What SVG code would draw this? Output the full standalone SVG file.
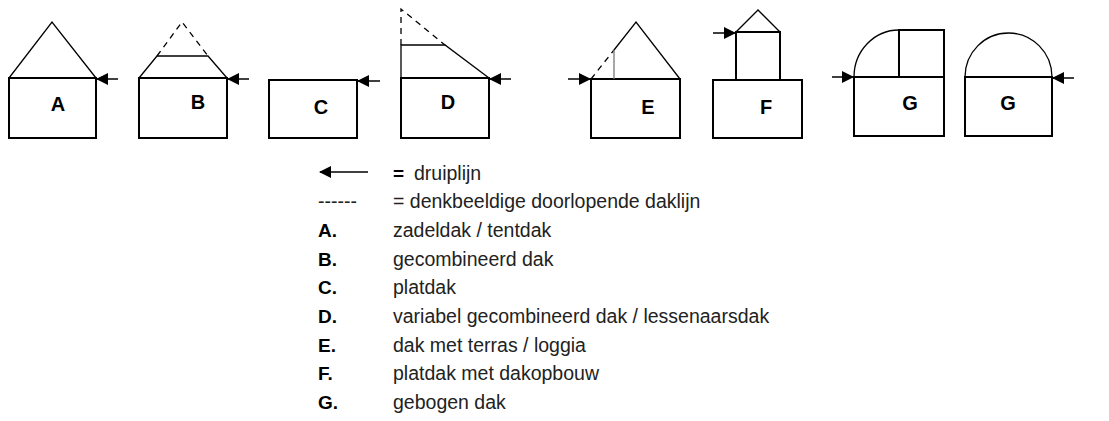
<svg xmlns="http://www.w3.org/2000/svg" width="1109" height="421" viewBox="0 0 1109 421">
<style>
.s{fill:none;stroke:#000;stroke-width:2}
.t{fill:none;stroke:#000;stroke-width:1.3}
.d{fill:none;stroke:#000;stroke-width:1.3;stroke-dasharray:6,5}
.a{stroke:#000;stroke-width:1.5;marker-end:url(#ah)}
.lb{font-family:"Liberation Sans",Arial,sans-serif;font-weight:bold;font-size:20px;text-anchor:middle}
.lg{font-family:"Liberation Sans",Arial,sans-serif;font-size:19.5px;fill:#222}
.lk{font-family:"Liberation Sans",Arial,sans-serif;font-size:19px;font-weight:bold}
</style>
<defs><marker id="ah" markerWidth="12" markerHeight="12" refX="11" refY="6" orient="auto" markerUnits="userSpaceOnUse"><path d="M0,0 L12,6 L0,12 Z" fill="#000"/></marker></defs>
<g id="A"><rect class="s" x="9" y="78" width="87" height="60"/><path class="t" d="M9,78 L52,22 L96,78"/><text class="lb" x="58" y="111">A</text></g>
<g id="B"><rect class="s" x="139" y="78" width="88" height="60"/><path class="t" d="M139,78 L157,56 L208,56 L227,78"/><path class="d" d="M157,56 L182,22 L208,56"/><text class="lb" x="198" y="109">B</text></g>
<g id="C"><rect class="s" x="269" y="80" width="88" height="58"/><text class="lb" x="321" y="114">C</text></g>
<g id="D"><rect class="s" x="401" y="78" width="88" height="60"/><path class="t" d="M401,78 L401,45 L445,45 L489,78"/><path class="d" d="M401,45 L401,9 L445,45"/><text class="lb" x="448" y="109">D</text></g>
<g id="E"><rect class="s" x="591" y="79" width="89" height="59"/><path class="t" d="M614,50 L636,22 L680,79"/><path class="d" d="M591,79 L614,50"/><path d="M614,50 L614,79" stroke="#777" stroke-width="1.3"/><text class="lb" x="648" y="114">E</text></g>
<g id="F"><rect class="s" x="713" y="80" width="89" height="58"/><rect class="s" x="736" y="32" width="44" height="48"/><path class="t" d="M736,32 L758,10 L780,32"/><text class="lb" x="766" y="114">F</text></g>
<g id="G1"><rect class="s" x="854" y="77" width="90" height="59"/><path class="s" d="M899,77 L899,30 L944,30 L944,77"/><path class="t" d="M854,77 A45,47 0 0 1 899,30"/><text class="lb" x="910" y="110">G</text></g>
<g id="G2"><rect class="s" x="965" y="77" width="87" height="59"/><path class="t" d="M965,77 A43.5,44 0 0 1 1052,77"/><text class="lb" x="1008" y="110">G</text></g>
<g id="connectors">
<line class="a" x1="118" y1="79" x2="97" y2="79"/>
<line class="a" x1="249" y1="79" x2="228" y2="79"/>
<line class="a" x1="380" y1="81" x2="358" y2="81"/>
<line class="a" x1="511" y1="79" x2="490" y2="79"/>
<line class="a" x1="568" y1="79" x2="590" y2="79"/>
<line class="a" x1="713" y1="33" x2="735" y2="33"/>
<line class="a" x1="832" y1="77" x2="853" y2="77"/>
<line class="a" x1="1074" y1="78" x2="1053" y2="78"/>
<line class="a" x1="368" y1="172" x2="320" y2="172"/>
</g>
<g id="legend">
<text class="lk" x="393" y="180" font-size="24">=</text><text class="lg" x="414" y="180">druiplijn</text>
<text class="lg" x="318" y="208">------</text><text class="lg" x="393" y="208">= denkbeeldige doorlopende daklijn</text>
<text class="lk" x="318" y="237">A.</text><text class="lg" x="393" y="237">zadeldak / tentdak</text>
<text class="lk" x="318" y="266">B.</text><text class="lg" x="393" y="266">gecombineerd dak</text>
<text class="lk" x="318" y="294">C.</text><text class="lg" x="393" y="294">platdak</text>
<text class="lk" x="318" y="323">D.</text><text class="lg" x="393" y="323">variabel gecombineerd dak / lessenaarsdak</text>
<text class="lk" x="318" y="352">E.</text><text class="lg" x="393" y="352">dak met terras / loggia</text>
<text class="lk" x="318" y="380">F.</text><text class="lg" x="393" y="380">platdak met dakopbouw</text>
<text class="lk" x="318" y="409">G.</text><text class="lg" x="393" y="409">gebogen dak</text>
</g>
</svg>
